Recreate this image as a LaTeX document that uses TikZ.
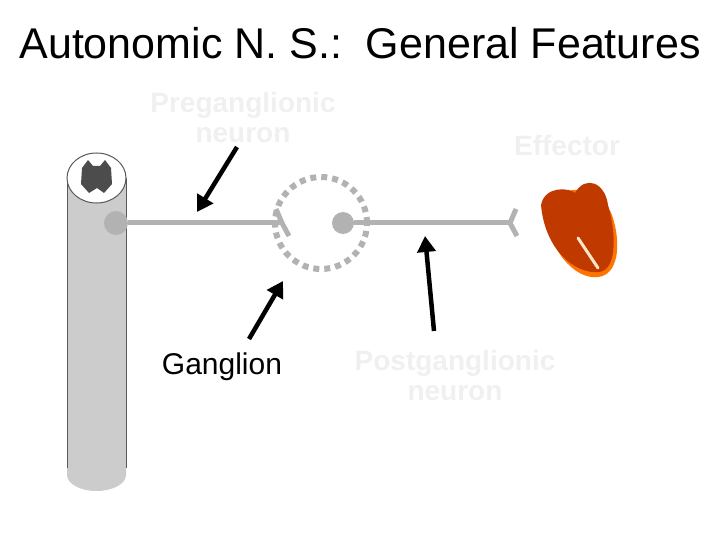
\documentclass[tikz,border=0pt]{standalone}
\usepackage{fontspec}
\setmainfont{Liberation Sans}
\usetikzlibrary{arrows.meta}
\definecolor{nerve}{HTML}{B2B2B2}
\definecolor{faint}{HTML}{F0F0F0}
\definecolor{heart}{HTML}{C03A00}
\begin{document}
\begin{tikzpicture}[x=1pt,y=-1pt,
  nerveline/.style={draw=nerve,line width=5pt},
  pointer/.style={draw=black,line width=4.5pt,-{Triangle[length=16pt,width=18pt]}},
  faintlbl/.style={text=faint,font=\bfseries\fontsize{28}{30}\selectfont,align=center}]
\useasboundingbox (0,0) rectangle (720,540);
\node (title) at (360,43) {\fontsize{43}{48}\selectfont Autonomic N. S.:\ \ General Features};
% spinal cord
\fill[gray!40] (67,178) -- (67,475) arc[start angle=180,end angle=0,x radius=29.5,y radius=16] -- (126,178) -- cycle;
\draw[gray!70!black,line width=1pt] (67,178) -- (67,468) (126,178) -- (126,468);
\draw[gray!70!black,line width=1pt,fill=white] (96.5,178) ellipse[x radius=29.5,y radius=25];
\fill[gray!60!black] (82,168) -- (88,160) -- (93,166) -- (100,166) -- (105,160) -- (111,168) -- (112,184) -- (104,193) -- (97,188) -- (89,193) -- (81,184) -- cycle;
% neurons
\node[circle,fill=nerve,minimum width=20pt,minimum height=24pt,inner sep=0pt] (pre) at (116,223) {};
\coordinate (syn1) at (282,223);
\draw[nerveline] (pre) -- (syn1);
\draw[draw=nerve,line width=5pt] (276,209) -- (282,223) -- (289,236);
\node[circle,draw=nerve,dash pattern=on 6pt off 5pt,line width=6pt,minimum size=92pt,inner sep=0pt] (gang) at (321,223) {};
\node[circle,fill=nerve,minimum size=22pt,inner sep=0pt] (post) at (343,223) {};
\coordinate (syn2) at (510,223);
\draw[nerveline] (post) -- (syn2);
\draw[draw=nerve,line width=5pt] (516,209) -- (510,223) -- (517,236);
% heart
\fill[orange!90!red] (545,210) .. controls (560,180) and (600,185) .. (612,215) .. controls (622,245) and (618,275) .. (598,277) .. controls (575,280) and (548,250) .. (545,210);
\fill[heart] (541,205) .. controls (545,185) and (570,188) .. (575,193) .. controls (585,175) and (605,182) .. (608,205) .. controls (618,240) and (615,272) .. (598,272) .. controls (575,274) and (545,250) .. (541,205);
\draw[orange!20,line width=3pt,line cap=round] (578,238) -- (598,268);
% labels
\node[faintlbl] (prelbl) at (243,117) {Preganglionic\\neuron};
\node[faintlbl] (efflbl) at (567,145) {Effector};
\node[faintlbl] (postlbl) at (455,375) {Postganglionic\\neuron};
\node[font=\fontsize{30}{32}\selectfont] (ganglbl) at (222,367) {Ganglion};
% arrows
\coordinate (a1s) at (237,147); \coordinate (a1e) at (197,212);
\coordinate (a2s) at (249,339); \coordinate (a2e) at (283,281);
\coordinate (a3s) at (434,331); \coordinate (a3e) at (425,236);
\draw[pointer] (a1s) -- (a1e);
\draw[pointer] (a2s) -- (a2e);
\draw[pointer] (a3s) -- (a3e);
\end{tikzpicture}
\end{document}
